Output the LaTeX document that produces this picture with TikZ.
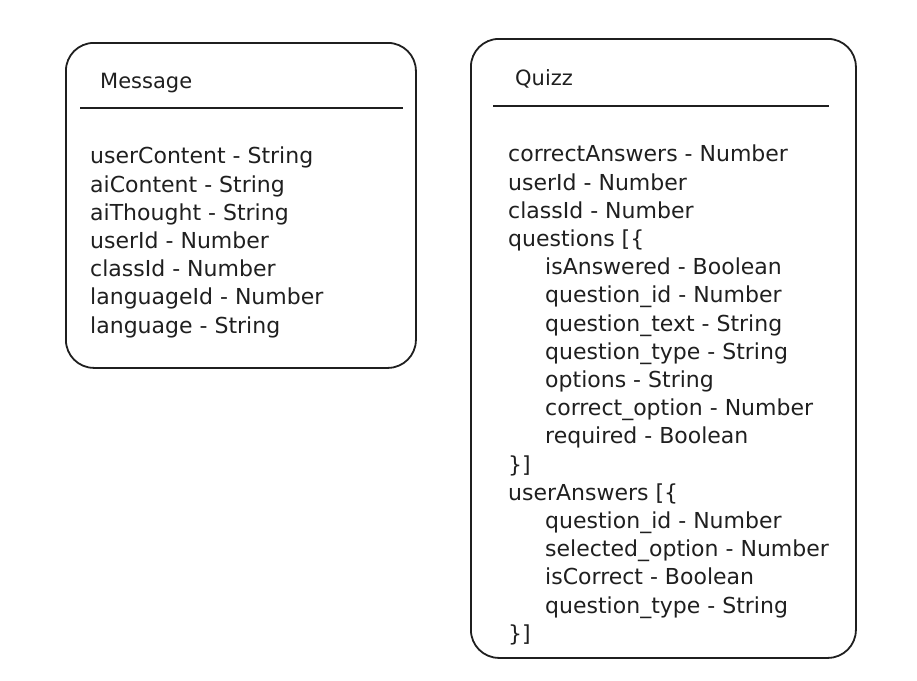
\documentclass[tikz,border=0pt]{standalone}
\usepackage{fontspec}
\setmainfont{DejaVu Sans}
\usetikzlibrary{positioning}

\newcommand{\ind}{\hspace*{37pt}}

\tikzset{
  card/.style={draw=black!88, line width=1.8pt, rounded corners=28pt,
    anchor=north west, inner sep=0pt},
  cardtitle/.style={anchor=base west, inner sep=0pt,
    font=\fontsize{21}{25}\selectfont, text=black!88},
  cardrule/.style={line width=2.8pt, draw=black!88},
  cardbody/.style={anchor=north west, inner sep=0pt, align=left,
    font=\fontsize{22}{28.2}\selectfont, text=black!88}
}

\begin{document}
\begin{tikzpicture}[x=1pt, y=-1pt]
\useasboundingbox (0,0) rectangle (917,680);

% Message
\node[card, minimum width=350pt, minimum height=325pt] (msg) at (65,42) {};
\node[cardtitle] (msgtitle) at (100,88) {Message};
\coordinate (msgL) at (80,108);
\coordinate (msgR) at (403,108);
\draw[cardrule] (msgL) -- (msgR);
\node[cardbody] (msgbody) at (90,147) {userContent - String\\
aiContent - String\\
aiThought - String\\
userId - Number\\
classId - Number\\
languageId - Number\\
language - String};

% Quizz
\node[card, minimum width=385pt, minimum height=619pt] (quiz) at (470,38) {};
\node[cardtitle] (quiztitle) at (515,85) {Quizz};
\coordinate (quizL) at (493,106);
\coordinate (quizR) at (829,106);
\draw[cardrule] (quizL) -- (quizR);
\node[cardbody] (quizbody) at (508,145) {correctAnswers - Number\\
userId - Number\\
classId - Number\\
questions [\{\\
\ind isAnswered - Boolean\\
\ind question\_id - Number\\
\ind question\_text - String\\
\ind question\_type - String\\
\ind options - String\\
\ind correct\_option - Number\\
\ind required - Boolean\\
\}]\\
userAnswers [\{\\
\ind question\_id - Number\\
\ind selected\_option - Number\\
\ind isCorrect - Boolean\\
\ind question\_type - String\\
\}]};
\end{tikzpicture}
\end{document}
